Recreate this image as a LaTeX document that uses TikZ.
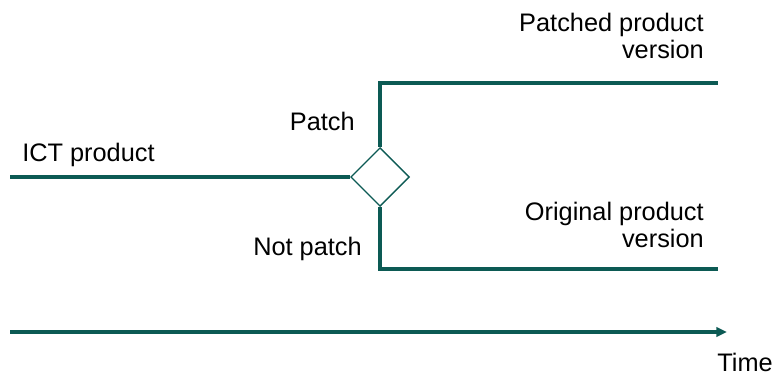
\documentclass[tikz,border=0pt]{standalone}
\usepackage{fontspec}
\setmainfont{Liberation Sans}
\usetikzlibrary{shapes.geometric,arrows.meta,positioning}
\definecolor{teal}{RGB}{12,90,84}

\begin{document}
\begin{tikzpicture}[
    x=0.75pt, y=-0.75pt,
    lbl/.style={inner sep=0pt, font=\fontsize{19}{20.3}\selectfont},
    decision/.style={diamond, draw=teal, line width=1pt, fill=white,
                     minimum width=44pt, minimum height=44pt, inner sep=0pt},
    path/.style={draw=teal, line width=2.3pt},
    timearrow/.style={path, -{Triangle[length=8pt, width=7pt]}}
]
\useasboundingbox (0,0) rectangle (774,377);

% Product line
\node[decision] (dec) at (380,177) {};
\coordinate (start) at (10,177);
\coordinate (patchend) at (718,83);
\coordinate (origend) at (718,269);

% Time axis
\coordinate (t0) at (10,332);
\coordinate (t1) at (727,332);

% Connectors
\draw[path] (start) -- (dec.west);
\draw[path] (dec.north) |- (patchend);
\draw[path] (dec.south) |- (origend);
\draw[timearrow] (t0) -- (t1);

% Labels
\node[lbl, anchor=base west] (ict) at (22,162) {ICT product};
\node[lbl, anchor=base east] (patch) at (355,131) {Patch};
\node[lbl, anchor=base east] (notpatch) at (362,256) {Not patch};
\node[lbl, anchor=north east, align=right] (patched) at (704,13) {Patched product\\version};
\node[lbl, anchor=north east, align=right] (original) at (704,202) {Original product\\version};
\node[lbl, anchor=base east] (time) at (773,371) {Time};

\end{tikzpicture}
\end{document}
